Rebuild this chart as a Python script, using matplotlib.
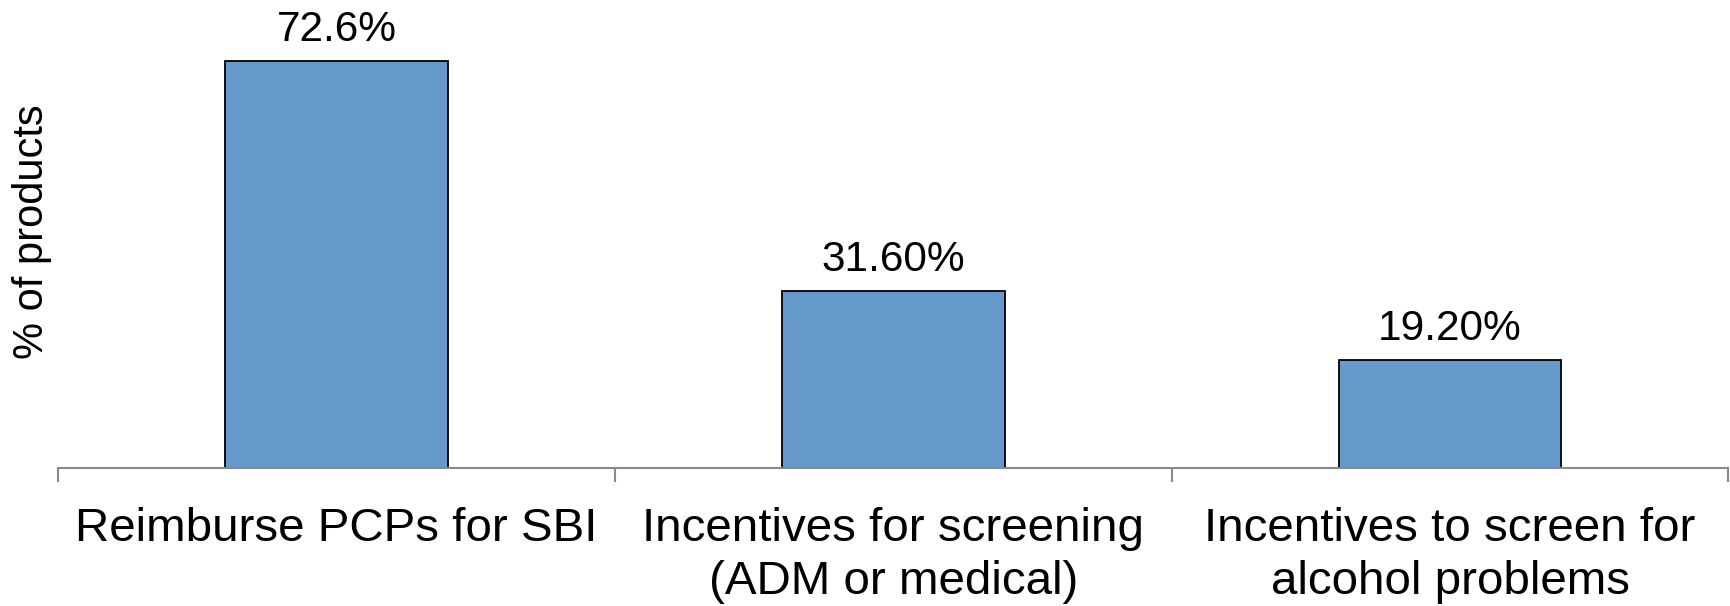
import matplotlib.pyplot as plt
import numpy as np

plt.rcParams['font.family'] = ['Liberation Sans', 'DejaVu Sans']

categories = ["Reimburse PCPs for SBI",
              "Incentives for screening\n(ADM or medical)",
              "Incentives to screen for\nalcohol problems"]
values = [72.6, 31.6, 19.2]
valueLabels = ["72.6%", "31.60%", "19.20%"]

fig = plt.figure(figsize=(17.31, 6.06), dpi=100)
ax = fig.add_axes([0.0335, 0.2277, 0.965, 0.74])

xs = np.arange(len(categories))
bars = ax.bar(xs, values, width=0.4, color='#6699cc',
              edgecolor='black', linewidth=1.3, zorder=2)

for bar, text in zip(bars, valueLabels):
    ax.annotate(text, (bar.get_x() + bar.get_width() / 2, bar.get_height()),
                xytext=(0, 8), textcoords='offset points',
                ha='center', va='bottom', fontsize=30.5)

ax.set_xlim(-0.5, len(categories) - 0.5)
ax.set_ylim(0, 80)

# category labels on major ticks, boundary tick marks on minor ticks
ax.set_xticks(xs)
ax.set_xticklabels(categories, fontsize=34.2, linespacing=1.28)
ax.set_xticks(np.arange(len(categories) + 1) - 0.5, minor=True)
ax.tick_params(axis='x', which='major', length=0, pad=28)
ax.tick_params(axis='x', which='minor', length=10, width=1.5,
               color='#898989', direction='out')

ax.set_yticks([])
ax.set_ylabel("% of products", fontsize=30)
ax.yaxis.set_label_coords(-0.0035, 0.527)

for side in ['top', 'right', 'left']:
    ax.spines[side].set_visible(False)
ax.spines['bottom'].set_color('#898989')
ax.spines['bottom'].set_linewidth(1.5)
ax.spines['bottom'].set_zorder(3)

fig.savefig("out.png", dpi=100)
